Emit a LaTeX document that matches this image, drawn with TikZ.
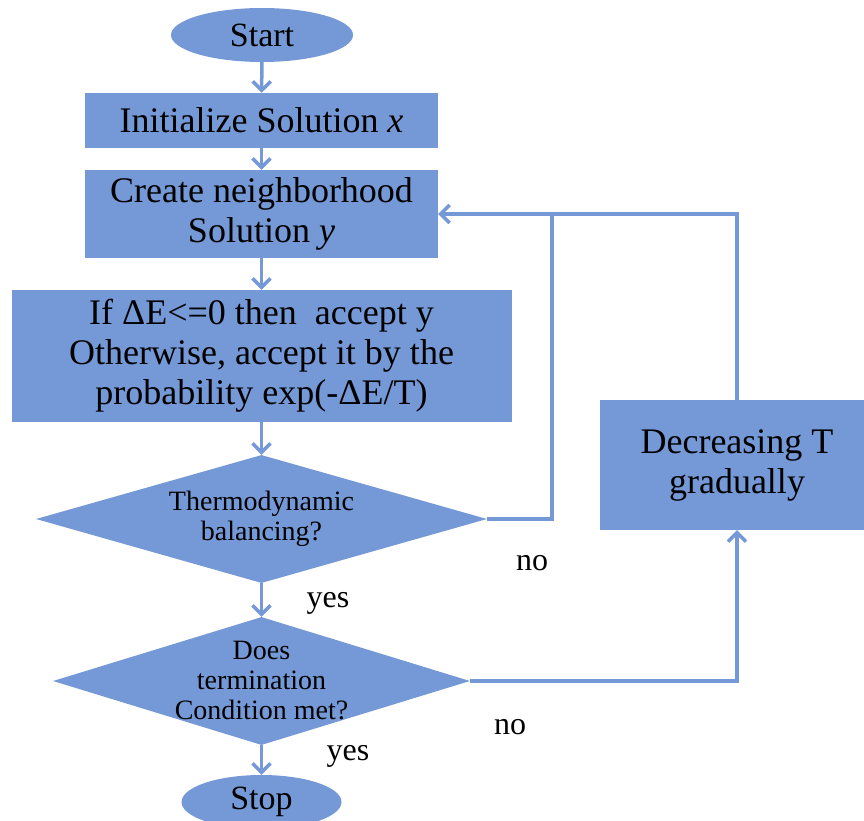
\documentclass[tikz,border=0pt]{standalone}
\usepackage{fontspec}
\setmainfont{Liberation Serif}
\usetikzlibrary{shapes.geometric,arrows.meta}
\definecolor{flowblue}{RGB}{117,153,215}

\begin{document}
\begin{tikzpicture}[x=1pt,y=-1pt]
\tikzstyle{term}=[ellipse, fill=flowblue, minimum width=182pt, minimum height=54pt, inner sep=0pt, font=\fontsize{34}{38}\selectfont]
\tikzstyle{proc}=[rectangle, fill=flowblue, inner sep=0pt, align=center, font=\fontsize{36}{40}\selectfont]
\tikzstyle{decide}=[diamond, fill=flowblue, inner sep=0pt, label distance=0pt]
\tikzstyle{ask}=[align=center, font=\fontsize{28}{30}\selectfont]
\tikzstyle{connect}=[-{Straight Barb[length=9pt,width=18pt]}, line width=3.5pt, draw=flowblue]
\tikzstyle{line}=[line width=3.5pt, draw=flowblue]
\tikzstyle{answer}=[inner sep=0pt, font=\fontsize{32}{36}\selectfont]
\useasboundingbox (0,0) rectangle (864,821);

\node[term] (start) at (262,35) {Start};
\node[proc, minimum width=353pt, minimum height=55pt] (init) at (261.5,120.5) {Initialize Solution \textit{x}};
\node[proc, minimum width=353pt, minimum height=88pt] (create) at (261.5,214) {Create neighborhood\\Solution \textit{y}};
\node[proc, minimum width=500pt, minimum height=132pt] (accept) at (261.5,356) {If ΔE<=0 then\ \ accept y\\Otherwise, accept it by the\\probability exp(-ΔE/T)};
\node[decide, minimum width=451pt, minimum height=128pt] (balance) at (261.5,519) [label={[ask]center:{Thermodynamic\\balancing?}}]{};
\node[decide, minimum width=417pt, minimum height=128pt] (stopq) at (261.5,681) [label={[ask]center:{Does\\termination\\Condition met?}}]{};
\node[term, minimum width=160pt] (stop) at (261.5,802) {Stop};
\node[proc, minimum width=274pt, minimum height=130pt] (cool) at (737,465) {Decreasing T\\gradually};
\coordinate (join) at (552,214);

\node[answer] (no1) at (532,563) {no};
\node[answer] (yes1) at (328,603) {yes};
\node[answer] (no2) at (510,727) {no};
\node[answer] (yes2) at (348,756) {yes};

\draw[connect] (start) -- (init);
\draw[connect] (init) -- (create);
\draw[connect] (create) -- (accept);
\draw[connect] (accept) -- (balance);
\draw[connect] (balance) -- (stopq);
\draw[connect] (stopq) -- (stop);
\draw[connect] (stopq.east) -| (cool.south);
\draw[connect] (cool.north) |- (create.east);
\draw[line] (balance.east) -| (join);

\end{tikzpicture}
\end{document}
